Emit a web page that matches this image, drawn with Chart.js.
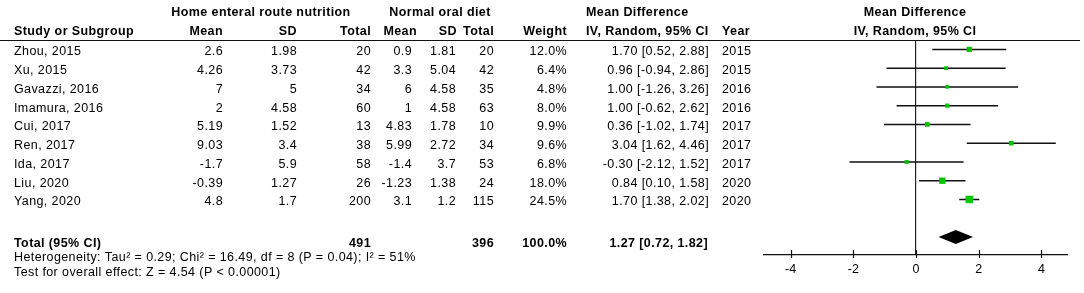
<!DOCTYPE html>
<html>
<head>
<meta charset="utf-8">
<script src="https://cdn.jsdelivr.net/npm/chart.js@4.4.1/dist/chart.umd.min.js"></script>
<style>
body { margin: 0; background: #fff; }
</style>
</head>
<body>
<canvas id="forest" width="1084" height="293"></canvas>
<script>
// study data
const studies = ['Zhou, 2015', 'Xu, 2015', 'Gavazzi, 2016', 'Imamura, 2016', 'Cui, 2017', 'Ren, 2017', 'Ida, 2017', 'Liu, 2020', 'Yang, 2020'];
const years = [2015, 2015, 2016, 2016, 2017, 2017, 2017, 2020, 2020];
const meanE = ['2.6', '4.26', '7', '2', '5.19', '9.03', '-1.7', '-0.39', '4.8'];
const sdE = ['1.98', '3.73', '5', '4.58', '1.52', '3.4', '5.9', '1.27', '1.7'];
const totalE = [20, 42, 34, 60, 13, 38, 58, 26, 200];
const meanC = ['0.9', '3.3', '6', '1', '4.83', '5.99', '-1.4', '-1.23', '3.1'];
const sdC = ['1.81', '5.04', '4.58', '4.58', '1.78', '2.72', '3.7', '1.38', '1.2'];
const totalC = [20, 42, 35, 63, 10, 34, 53, 24, 115];
const weights = [12.0, 6.4, 4.8, 8.0, 9.9, 9.6, 6.8, 18.0, 24.5];
const md = [1.70, 0.96, 1.00, 1.00, 0.36, 3.04, -0.30, 0.84, 1.70];
const ciLo = [0.52, -0.94, -1.26, -0.62, -1.02, 1.62, -2.12, 0.10, 1.38];
const ciHi = [2.88, 2.86, 3.26, 2.62, 1.74, 4.46, 1.52, 1.58, 2.02];

// pooled result
const totalN = [491, 396];
const totalMd = [1.27, 0.72, 1.82];
const heterogeneity = 'Heterogeneity: Tau² = 0.29; Chi² = 16.49, df = 8 (P = 0.04); I² = 51%';
const overallTest = 'Test for overall effect: Z = 4.54 (P < 0.00001)';

const tickVals = [-4, -2, 0, 2, 4];
const totalRow = 10;

const FONT = '"Liberation Sans", Arial, sans-serif';
const GREEN = '#00c400';

const ciText = (m, lo, hi) => m.toFixed(2) + ' [' + lo.toFixed(2) + ', ' + hi.toFixed(2) + ']';

const ciLines = [];
studies.forEach((s, i) => {
	ciLines.push({x: ciLo[i], y: i}, {x: ciHi[i], y: i}, {x: null, y: null});
});

const tablePlugin = {
	id: 'table',
	afterDraw(chart) {
		const ctx = chart.ctx;
		const xs = chart.scales.x;
		const ys = chart.scales.y;
		const area = chart.chartArea;

		function txt(s, x, y, align, bold) {
			ctx.font = (bold ? 'bold ' : '') + '12.5px ' + FONT;
			ctx.letterSpacing = '0.4px';
			ctx.fillStyle = '#000';
			ctx.textAlign = align;
			ctx.textBaseline = 'middle';
			ctx.fillText(s, x, y);
		}

		ctx.save();

		// header rule
		ctx.strokeStyle = '#111';
		ctx.lineWidth = 1.2;
		ctx.beginPath();
		ctx.moveTo(0, area.top + 0.5);
		ctx.lineTo(1080, area.top + 0.5);
		ctx.stroke();

		// headers
		txt('Home enteral route nutrition', 261, 13, 'center', true);
		txt('Normal oral diet', 440, 13, 'center', true);
		txt('Mean Difference', 586, 13, 'left', true);
		txt('Mean Difference', 915, 13, 'center', true);
		txt('Study or Subgroup', 14, 32, 'left', true);
		txt('Mean', 223, 32, 'right', true);
		txt('SD', 297, 32, 'right', true);
		txt('Total', 371, 32, 'right', true);
		txt('Mean', 417, 32, 'right', true);
		txt('SD', 457, 32, 'right', true);
		txt('Total', 494, 32, 'right', true);
		txt('Weight', 567, 32, 'right', true);
		txt('IV, Random, 95% CI', 586, 32, 'left', true);
		txt('Year', 722, 32, 'left', true);
		txt('IV, Random, 95% CI', 915, 32, 'center', true);

		// study rows
		studies.forEach((s, i) => {
			const y = ys.getPixelForValue(i) + 2.5;
			txt(s, 14, y, 'left');
			txt(meanE[i], 223, y, 'right');
			txt(sdE[i], 297, y, 'right');
			txt(String(totalE[i]), 371, y, 'right');
			txt(meanC[i], 412, y, 'right');
			txt(sdC[i], 456, y, 'right');
			txt(String(totalC[i]), 494, y, 'right');
			txt(weights[i].toFixed(1) + '%', 567, y, 'right');
			txt(ciText(md[i], ciLo[i], ciHi[i]), 709, y, 'right');
			txt(String(years[i]), 722, y, 'left');
		});

		// total row
		const ty = ys.getPixelForValue(totalRow) + 7;
		txt('Total (95% CI)', 14, ty, 'left', true);
		txt(String(totalN[0]), 371, ty, 'right', true);
		txt(String(totalN[1]), 494, ty, 'right', true);
		txt('100.0%', 567, ty, 'right', true);
		txt(ciText(totalMd[0], totalMd[1], totalMd[2]), 708, ty, 'right', true);
		txt(heterogeneity, 14, area.bottom + 3, 'left');
		txt(overallTest, 14, area.bottom + 18, 'left');

		// pooled diamond
		const dy = ys.getPixelForValue(totalRow);
		ctx.fillStyle = '#000';
		ctx.beginPath();
		ctx.moveTo(xs.getPixelForValue(totalMd[1]), dy);
		ctx.lineTo(xs.getPixelForValue(totalMd[0]), dy - 7);
		ctx.lineTo(xs.getPixelForValue(totalMd[2]), dy);
		ctx.lineTo(xs.getPixelForValue(totalMd[0]), dy + 7);
		ctx.closePath();
		ctx.fill();

		// tick marks crossing the axis
		ctx.strokeStyle = '#111';
		ctx.lineWidth = 1.2;
		tickVals.forEach(v => {
			const x = Math.round(xs.getPixelForValue(v)) + 0.5;
			ctx.beginPath();
			ctx.moveTo(x, area.bottom - 5);
			ctx.lineTo(x, area.bottom + 3);
			ctx.stroke();
		});

		ctx.restore();
	}
};

new Chart(document.getElementById('forest'), {
	type: 'scatter',
	data: {
		datasets: [{
			data: md.map((m, i) => ({x: m, y: i})),
			pointStyle: 'rect',
			pointRadius: ctx => Math.max(2.6, 1.5 * Math.sqrt(weights[ctx.dataIndex]) / 1.414),
			pointBackgroundColor: GREEN,
			pointBorderWidth: 0,
			order: 0
		}, {
			data: ciLines,
			showLine: true,
			spanGaps: false,
			borderColor: '#111',
			borderWidth: 1.5,
			pointRadius: 0,
			order: 1
		}]
	},
	options: {
		responsive: false,
		animation: false,
		layout: {padding: {left: 764, right: 16, top: 40, bottom: 9}},
		plugins: {legend: {display: false}, tooltip: {enabled: false}},
		scales: {
			x: {
				min: -4.85,
				max: 4.85,
				afterBuildTicks: scale => { scale.ticks = tickVals.map(v => ({value: v})); },
				grid: {
					color: c => (c.tick && c.tick.value === 0) ? '#222' : 'rgba(0,0,0,0)',
					lineWidth: 1.2,
					drawTicks: false
				},
				border: {display: true, color: '#111', width: 1.2},
				ticks: {color: '#000', padding: 7, font: {family: FONT, size: 12.5}}
			},
			y: {
				display: false,
				reverse: true,
				min: -0.5,
				max: 10.96
			}
		}
	},
	plugins: [tablePlugin]
});
</script>
</body>
</html>
